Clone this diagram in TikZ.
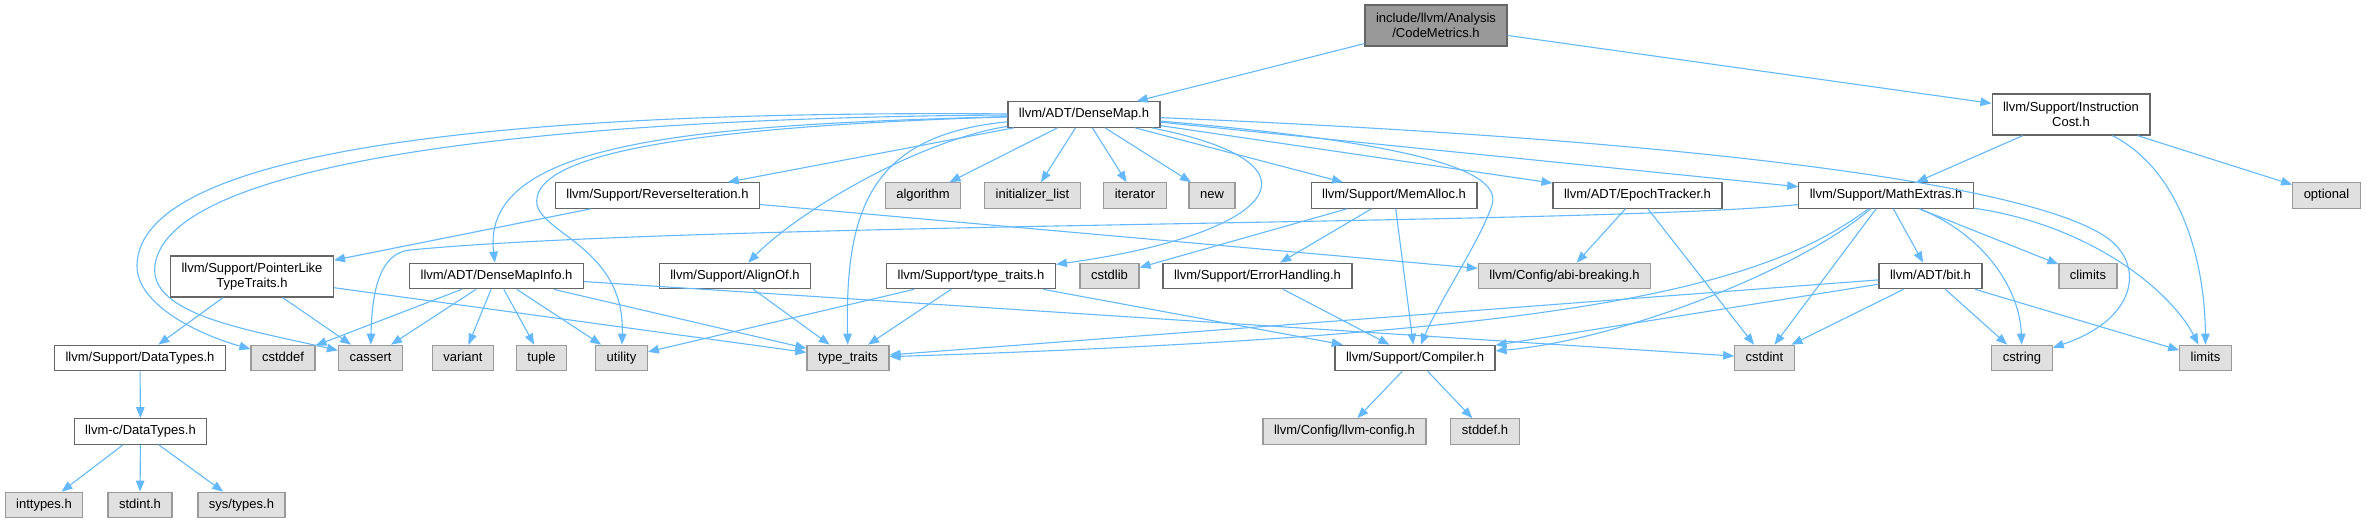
\documentclass[tikz,border=0pt]{standalone}
\usepackage{fontspec}
\setmainfont{Liberation Sans}
\usetikzlibrary{arrows.meta}
\definecolor{edgeblue}{HTML}{63B8FF}
\definecolor{hdrline}{HTML}{666666}
\definecolor{sysline}{HTML}{999999}
\definecolor{sysfill}{HTML}{E0E0E0}
\definecolor{rootfill}{HTML}{999999}

\begin{document}
\begin{tikzpicture}[>={Triangle[length=11pt,width=8.5pt]}, x=1pt, y=-1pt, font=\fontsize{13}{15}\selectfont]
\tikzset{
	hdr/.style={draw=hdrline, fill=white, line width=1.2pt, inner xsep=11pt, inner ysep=0pt, minimum height=25.5pt, text height=9.5pt, text depth=2.8pt},
	sys/.style={hdr, draw=sysline, fill=sysfill},
	hdrtwo/.style={draw=hdrline, fill=white, line width=1.2pt, inner xsep=11pt, align=center, minimum height=41pt},
	mainhdr/.style={hdrtwo, fill=rootfill},
	incl/.style={->, draw=edgeblue, line width=1.1pt}
}
\useasboundingbox (0,0) rectangle (2366,523);

% Top of the graph
\node[mainhdr] (codemetrics) at (1436,25.5) {include/llvm/Analysis\\/CodeMetrics.h};
\node[hdr] (densemap) at (1084,114.5) {llvm/ADT/DenseMap.h};
\node[hdrtwo] (instcost) at (2071,114.5) {llvm/Support/Instruction\\Cost.h};

% Second row
\node[hdr] (reviter) at (657.5,195.5) {llvm/Support/ReverseIteration.h};
\node[sys] (algorithm) at (923,195.5) {algorithm};
\node[sys] (initlist) at (1032.5,195.5) {initializer\_list};
\node[sys] (iterator) at (1135,195.5) {iterator};
\node[sys] (newhdr) at (1212,195.5) {new};
\node[hdr] (memalloc) at (1394,195.5) {llvm/Support/MemAlloc.h};
\node[hdr] (epoch) at (1637.5,195.5) {llvm/ADT/EpochTracker.h};
\node[hdr] (mathextras) at (1886,195.5) {llvm/Support/MathExtras.h};
\node[sys] (optional) at (2326.5,195.5) {optional};

% Third row
\node[hdrtwo] (ptrlike) at (252,276.5) {llvm/Support/PointerLike\\TypeTraits.h};
\node[hdr] (densemapinfo) at (496.5,276) {llvm/ADT/DenseMapInfo.h};
\node[hdr] (alignof) at (735,276) {llvm/Support/AlignOf.h};
\node[hdr] (suptraits) at (971,276) {llvm/Support/type\_traits.h};
\node[sys] (cstdlib) at (1109.5,276) {cstdlib};
\node[hdr] (errhandling) at (1257.5,276) {llvm/Support/ErrorHandling.h};
\node[sys] (abibreak) at (1564.5,276) {llvm/Config/abi-breaking.h};
\node[hdr] (bith) at (1930.5,276) {llvm/ADT/bit.h};
\node[sys] (climits) at (2088,276) {climits};

% Fourth row
\node[hdr] (datatypes) at (140,358) {llvm/Support/DataTypes.h};
\node[sys] (cstddef) at (283,358) {cstddef};
\node[sys] (cassert) at (370.5,358) {cassert};
\node[sys] (variant) at (463,358) {variant};
\node[sys] (tuple) at (541.5,358) {tuple};
\node[sys] (utility) at (621.5,358) {utility};
\node[sys] (typetraits) at (848,358) {type\_traits};
\node[hdr] (compiler) at (1415,358) {llvm/Support/Compiler.h};
\node[sys] (cstdint) at (1764.5,358) {cstdint};
\node[sys] (cstring) at (2022,358) {cstring};
\node[sys] (limits) at (2205.5,358) {limits};

% Bottom rows
\node[hdr] (cdatatypes) at (140.5,431.5) {llvm-c/DataTypes.h};
\node[sys] (llvmconfig) at (1344.5,431.5) {llvm/Config/llvm-config.h};
\node[sys] (stddefh) at (1485,431.5) {stddef.h};
\node[sys] (inttypes) at (44,505) {inttypes.h};
\node[sys] (stdinth) at (140,505) {stdint.h};
\node[sys] (systypes) at (241.5,505) {sys/types.h};

% Includes of CodeMetrics.h
\draw[incl] (codemetrics) -- (densemap);
\draw[incl] (codemetrics) -- (instcost);

% Includes of DenseMap.h
\draw[incl] (densemap) -- (algorithm);
\draw[incl] (densemap) -- (initlist);
\draw[incl] (densemap) -- (iterator);
\draw[incl] (densemap) -- (newhdr);
\draw[incl] (densemap) -- (memalloc);
\draw[incl] (densemap) -- (epoch);
\draw[incl] (densemap) -- (mathextras);
\draw[incl] (densemap) -- (reviter);
\draw[incl] (densemap) .. controls (700,125) and (480,140) .. (densemapinfo);
\draw[incl] (densemap) .. controls (920,140) and (800,210) .. (alignof);
\draw[incl] (densemap) .. controls (870,135) and (845,210) .. (typetraits);
\draw[incl] (densemap) .. controls (1340,165) and (1270,235) .. (suptraits);
\draw[incl] (densemap) .. controls (1380,140) and (1505,165) .. (1492,205) .. controls (1481,239) and (1440,300) .. (compiler);
\draw[incl] (densemap) .. controls (1700,140) and (2040,185) .. (2110,240) .. controls (2145,268) and (2135,320) .. (cstring);
\draw[incl] (densemap) .. controls (650,128) and (530,160) .. (537,205) .. controls (545,235) and (625,250) .. (utility);
\draw[incl] (densemap) .. controls (500,110) and (140,150) .. (137,265) .. controls (136,305) and (200,335) .. (cstddef);
\draw[incl] (densemap) .. controls (550,118) and (170,160) .. (155,265) .. controls (148,315) and (250,330) .. (cassert);

% Includes of InstructionCost.h
\draw[incl] (instcost) -- (mathextras);
\draw[incl] (instcost) -- (optional);
\draw[incl] (instcost) .. controls (2180,170) and (2205,260) .. (limits);

% Second row includes
\draw[incl] (reviter) -- (ptrlike);
\draw[incl] (reviter) -- (abibreak);
\draw[incl] (memalloc) -- (cstdlib);
\draw[incl] (memalloc) -- (errhandling);
\draw[incl] (memalloc) -- (compiler);
\draw[incl] (epoch) -- (abibreak);
\draw[incl] (epoch) -- (cstdint);
\draw[incl] (mathextras) -- (bith);
\draw[incl] (mathextras) -- (climits);
\draw[incl] (mathextras) -- (cstdint);
\draw[incl] (mathextras) .. controls (1985,235) and (2020,290) .. (cstring);
\draw[incl] (mathextras) .. controls (2090,225) and (2170,290) .. (limits);
\draw[incl] (mathextras) .. controls (1800,270) and (1620,340) .. (compiler);
\draw[incl] (mathextras) .. controls (1760,290) and (1560,335) .. (typetraits);
\draw[incl] (mathextras) .. controls (1600,225) and (700,222) .. (410,250) .. controls (380,253) and (372,290) .. (cassert);

% Third row includes
\draw[incl] (ptrlike) -- (datatypes);
\draw[incl] (ptrlike) -- (cassert);
\draw[incl] (ptrlike) -- (typetraits);
\draw[incl] (densemapinfo) -- (cstddef);
\draw[incl] (densemapinfo) -- (cassert);
\draw[incl] (densemapinfo) -- (variant);
\draw[incl] (densemapinfo) -- (tuple);
\draw[incl] (densemapinfo) -- (utility);
\draw[incl] (densemapinfo) -- (typetraits);
\draw[incl] (densemapinfo) -- (cstdint);
\draw[incl] (alignof) -- (typetraits);
\draw[incl] (suptraits) -- (utility);
\draw[incl] (suptraits) -- (typetraits);
\draw[incl] (suptraits) -- (compiler);
\draw[incl] (errhandling) -- (compiler);
\draw[incl] (bith) -- (typetraits);
\draw[incl] (bith) -- (compiler);
\draw[incl] (bith) -- (cstdint);
\draw[incl] (bith) -- (cstring);
\draw[incl] (bith) -- (limits);

% Lower rows
\draw[incl] (datatypes) -- (cdatatypes);
\draw[incl] (cdatatypes) -- (inttypes);
\draw[incl] (cdatatypes) -- (stdinth);
\draw[incl] (cdatatypes) -- (systypes);
\draw[incl] (compiler) -- (llvmconfig);
\draw[incl] (compiler) -- (stddefh);

\end{tikzpicture}
\end{document}
